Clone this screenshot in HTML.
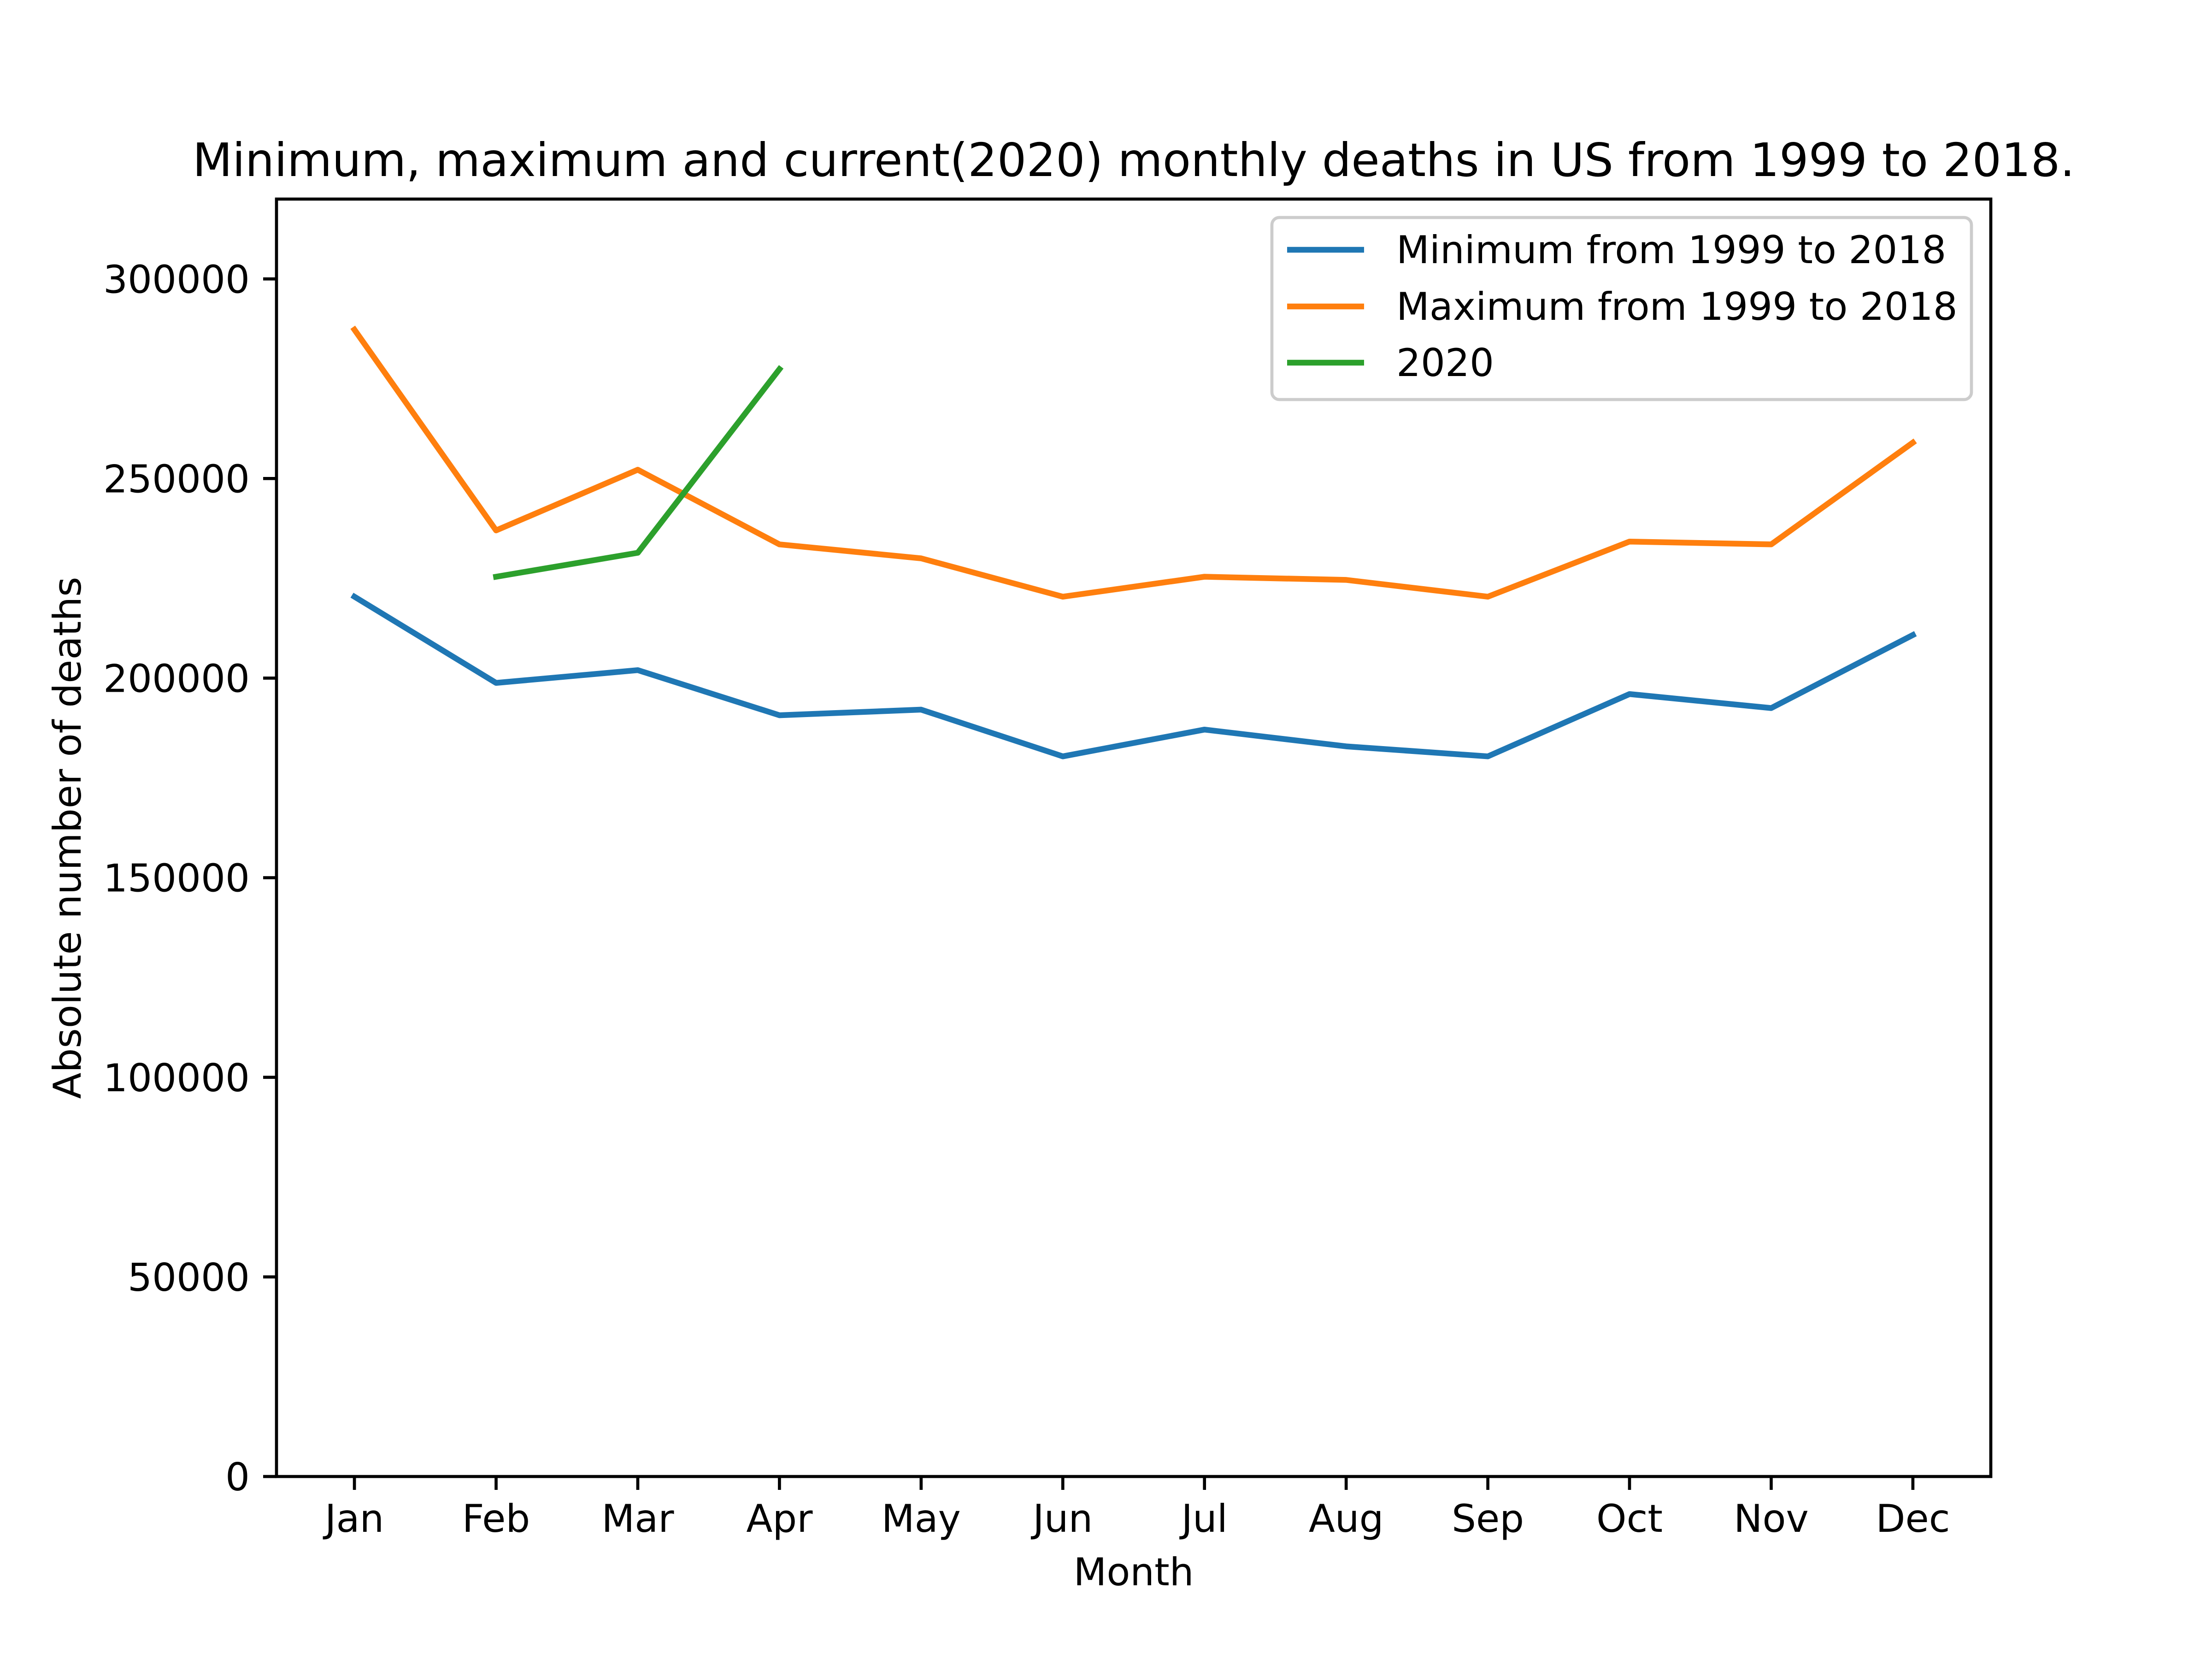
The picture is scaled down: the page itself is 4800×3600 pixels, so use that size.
<!DOCTYPE html>
<html><head><meta charset="utf-8"><style>
html,body{margin:0;padding:0;background:#fff}
svg{display:block}
text{font-family:"DejaVu Sans","Liberation Sans",sans-serif;fill:#000}
</style></head><body>
<svg id="chart" width="4800" height="3600" viewBox="0 0 4800 3600">
<rect width="4800" height="3600" fill="#fff"/>
<text x="2460" y="382" font-size="100" text-anchor="middle">Minimum, maximum and current(2020) monthly deaths in US from 1999 to 2018.</text>
<g id="plot"></g>
<rect x="600" y="432" width="3720" height="2772" fill="none" stroke="#000" stroke-width="6.67"/>
<text x="2460" y="3440" font-size="83.3" text-anchor="middle">Month</text>
<text transform="translate(175,1818) rotate(-90)" font-size="83.3" text-anchor="middle">Absolute number of deaths</text>
<g>
<rect x="2760" y="472" width="1518" height="395" rx="16" fill="#fff" fill-opacity="0.8" stroke="#ccc" stroke-width="6.67"/>
<line x1="2793" y1="542" x2="2960" y2="542" stroke="#1f77b4" stroke-width="12.5"/>
<text x="3030" y="571" font-size="83.3">Minimum from 1999 to 2018</text>
<line x1="2793" y1="665" x2="2960" y2="665" stroke="#ff7f0e" stroke-width="12.5"/>
<text x="3030" y="694" font-size="83.3">Maximum from 1999 to 2018</text>
<line x1="2793" y1="787" x2="2960" y2="787" stroke="#2ca02c" stroke-width="12.5"/>
<text x="3030" y="816" font-size="83.3">2020</text>
</g>
</svg>
<script>
const months = ["Jan","Feb","Mar","Apr","May","Jun","Jul","Aug","Sep","Oct","Nov","Dec"];
const minValues = [220400,198800,202000,190700,192100,180400,187100,182900,180400,196000,192500,210800];
const maxValues = [287300,237000,252200,233500,230000,220400,225400,224600,220400,234200,233500,259000];
const values2020 = [null,225400,231400,277400];
const yTicks = [0,50000,100000,150000,200000,250000,300000];

const NS = "http://www.w3.org/2000/svg";
const L = 600, R = 4320, T = 432, B = 3204;
const xMin = -0.55, xMax = 11.55, yMin = 0, yMax = 320000;
function xs(i){ return L + (i - xMin) / (xMax - xMin) * (R - L); }
function ys(v){ return B - (v - yMin) / (yMax - yMin) * (B - T); }
const g = document.getElementById('plot');
function mk(tag, attrs){ const e = document.createElementNS(NS, tag); for (const k in attrs) e.setAttribute(k, attrs[k]); g.appendChild(e); return e; }

yTicks.forEach(v => {
  const y = ys(v);
  const t = mk('line', {x1: L - 29, x2: L, y1: y, y2: y, stroke: '#000', 'stroke-width': 6.67});
  
  
  const lb = mk('text', {x: L - 58, y: y + 30, 'font-size': 83.3, 'text-anchor': 'end'});
  lb.textContent = String(v);
  
  
});
months.forEach((m, i) => {
  const x = xs(i);
  const t = mk('line', {x1: x, x2: x, y1: B, y2: B + 29, stroke: '#000', 'stroke-width': 6.67});
  
  
  const lb = mk('text', {x: x, y: B + 120, 'font-size': 83.3, 'text-anchor': 'middle'});
  lb.textContent = m;
  
  
});
function series(vals, color, name){
  const pts = [];
  vals.forEach((v, i) => { if (v !== null) pts.push(xs(i).toFixed(1) + ',' + ys(v).toFixed(1)); });
  const p = mk('polyline', {points: pts.join(' '), fill: 'none', stroke: color, 'stroke-width': 12.5, 'stroke-linejoin': 'round', 'stroke-linecap': 'square'});
  
  
}
series(minValues, '#1f77b4', 'min-line');
series(maxValues, '#ff7f0e', 'max-line');
series(values2020, '#2ca02c', 'line-2020');
</script>
</body></html>
